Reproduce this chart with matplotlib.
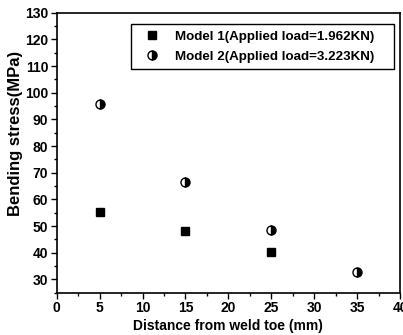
import matplotlib
matplotlib.use("Agg")
import matplotlib.pyplot as plt
from matplotlib.ticker import MultipleLocator

plt.rcParams['font.family'] = ['Liberation Sans', 'DejaVu Sans']
plt.rcParams['font.weight'] = 'bold'

model1_x = [5, 15, 25]
model1_y = [55.3, 48.0, 40.2]
model2_x = [5, 15, 25, 35]
model2_y = [95.7, 66.5, 48.5, 32.6]
labels = ['Model 1(Applied load=1.962KN)', 'Model 2(Applied load=3.223KN)']

fig = plt.figure(figsize=(4.03, 3.35), dpi=100)
ax = fig.add_axes([0.1407, 0.1263, 0.8519, 0.8357])

ax.plot(model1_x, model1_y, linestyle='none', marker='s', markersize=6,
        color='black', label=labels[0])
ax.plot(model2_x, model2_y, linestyle='none', marker='o', markersize=6.5,
        markeredgecolor='black', markerfacecolor='black', fillstyle='right',
        markerfacecoloralt='white', markeredgewidth=1.0, label=labels[1])

ax.set_xlim(0, 40)
ax.set_ylim(25, 130)
ax.xaxis.set_major_locator(MultipleLocator(5))
ax.xaxis.set_minor_locator(MultipleLocator(2.5))
ax.yaxis.set_major_locator(MultipleLocator(10))
ax.yaxis.set_minor_locator(MultipleLocator(5))
ax.tick_params(which='major', direction='out', length=4, width=1, labelsize=10,
               top=False, right=False, pad=2)
ax.tick_params(which='minor', direction='out', length=2, width=1, top=False, right=False)
for lab in ax.get_xticklabels() + ax.get_yticklabels():
    lab.set_fontweight('bold')
for s in ax.spines.values():
    s.set_linewidth(1.2)

ax.set_xlabel('Distance from weld toe (mm)', fontsize=10, fontweight='bold', labelpad=3)
ax.set_ylabel('Bending stress(MPa)', fontsize=12, fontweight='bold')
ax.yaxis.set_label_coords(-0.097, 0.569)

leg = ax.legend(loc='upper left', bbox_to_anchor=(0.2164, 0.9596, 0.766, 0.0),
                mode='expand', borderaxespad=0, fontsize=9.6,
                frameon=True, fancybox=False, edgecolor='black', framealpha=1,
                handletextpad=0.65, borderpad=0.5, labelspacing=0.55, handlelength=2.15)
leg.get_frame().set_linewidth(1.0)
for t in leg.get_texts():
    t.set_fontweight('bold')

fig.savefig('out.png', dpi=100)
